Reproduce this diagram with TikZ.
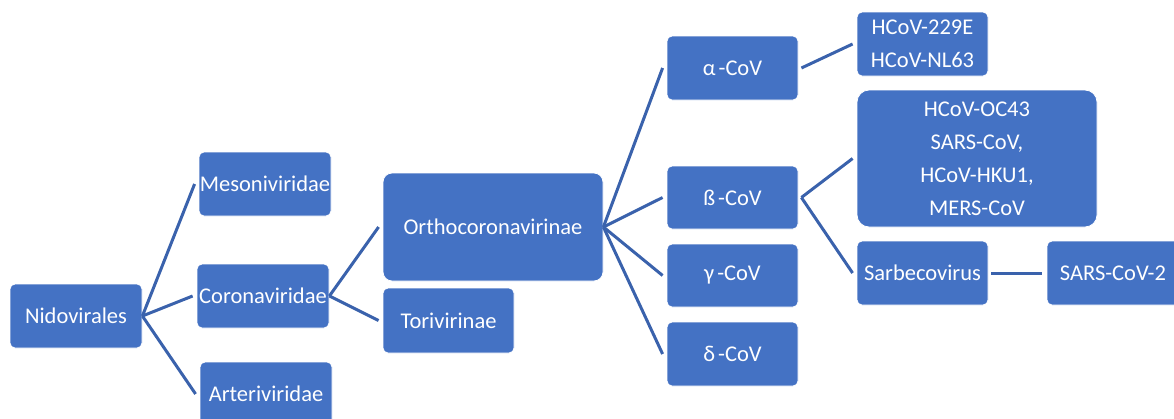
\documentclass[tikz,border=0pt]{standalone}
\usepackage{fontspec}
\setmainfont{Carlito}
\definecolor{boxblue}{HTML}{4472C4}
\definecolor{lineblue}{HTML}{3A62AC}
\begin{document}
\begin{tikzpicture}[x=1pt,y=-1pt,
  box/.style={draw=white, line width=0.8pt, fill=boxblue, text=white, rounded corners=5pt,
    inner sep=0pt, align=center, font=\fontsize{22.5}{33}\selectfont},
  conn/.style={draw=lineblue, line width=3pt}]
\useasboundingbox (0,0) rectangle (1174,418);
\node[box, minimum width=132pt, minimum height=64pt] (nido) at (76,316) {Nidovirales};
\node[box, minimum width=132pt, minimum height=64pt] (meso) at (265,184) {Mesoniviridae};
\node[box, minimum width=132pt, minimum height=64pt] (corona) at (263,296) {Coronaviridae};
\node[box, minimum width=132pt, minimum height=64pt] (arteri) at (266,394) {Arteriviridae};
\node[box, rounded corners=9pt, minimum width=220pt, minimum height=108pt] (ortho) at (493,227) {Orthocoronavirinae};
\node[box, minimum width=131pt, minimum height=65pt] (tori) at (448.5,320.5) {Torivirinae};
\node[box, minimum width=131pt, minimum height=64pt] (alpha) at (732.5,68) {α\kern3pt-CoV};
\node[box, minimum width=131pt, minimum height=63pt] (beta) at (732.5,197.5) {ß\kern3pt-CoV};
\node[box, minimum width=131pt, minimum height=63pt] (gamma) at (732.5,275.5) {γ\kern3pt-CoV};
\node[box, minimum width=131pt, minimum height=64pt] (delta) at (732.5,354) {δ\kern3pt-CoV};
\node[box, minimum width=131pt, minimum height=64pt] (hcov) at (922.5,44) {HCoV-229E\\HCoV-NL63};
\node[box, rounded corners=12pt, minimum width=240pt, minimum height=137pt] (betalist) at (977,158.5) {HCoV-OC43\\SARS-CoV,\\HCoV-HKU1,\\MERS-CoV};
\node[box, minimum width=131pt, minimum height=64pt] (sarbeco) at (922.5,273) {Sarbecovirus};
\node[box, minimum width=132pt, minimum height=64pt] (sars2) at (1113,273) {SARS-CoV-2};
\draw[conn] (nido.east) -- ([xshift=-4pt]meso.west);
\draw[conn] (nido.east) -- ([xshift=-4pt]corona.west);
\draw[conn] (nido.east) -- ([xshift=-4pt]arteri.west);
\draw[conn] (corona.east) -- ([xshift=-4pt]ortho.west);
\draw[conn] (corona.east) -- ([xshift=-4pt]tori.west);
\draw[conn] (ortho.east) -- ([xshift=-4pt]alpha.west);
\draw[conn] (ortho.east) -- ([xshift=-4pt]beta.west);
\draw[conn] (ortho.east) -- ([xshift=-4pt]gamma.west);
\draw[conn] (ortho.east) -- ([xshift=-4pt]delta.west);
\draw[conn] ([xshift=3pt]alpha.east) -- ([xshift=-4pt]hcov.west);
\draw[conn] ([xshift=3pt]beta.east) -- ([xshift=-4pt]betalist.west);
\draw[conn] ([xshift=3pt]beta.east) -- ([xshift=-4pt]sarbeco.west);
\draw[conn] ([xshift=3pt]sarbeco.east) -- ([xshift=-5pt]sars2.west);
\end{tikzpicture}
\end{document}
